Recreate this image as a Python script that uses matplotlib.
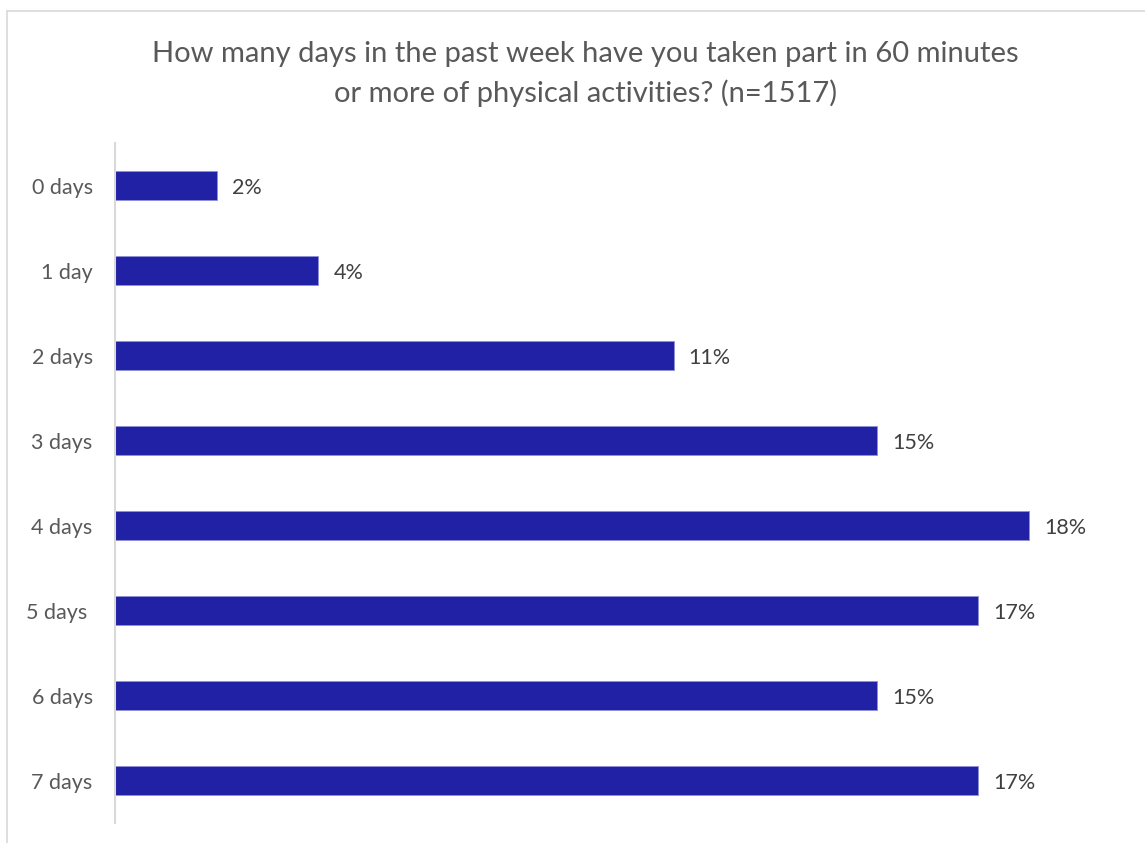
import matplotlib.pyplot as plt
from matplotlib.lines import Line2D

categories = ['0 days', '1 day', '2 days', '3 days', '4 days', '5 days ', '6 days', '7 days']
percent = [2, 4, 11, 15, 18, 17, 15, 17]
title = ('How many days in the past week have you taken part in 60 minutes\n'
         'or more of physical activities? (n=1517)')

plt.rcParams['font.family'] = ['Lato', 'DejaVu Sans']

fig = plt.figure(figsize=(11.45, 8.43), dpi=100)
ax = fig.add_axes([0.1004, 0.0237, 0.887, 0.8066])

ypos = range(len(categories))
ax.barh(ypos, percent, height=0.35, color='#2121A6', edgecolor='#8F8FD6', linewidth=0.6)

# percentage labels just past the bar ends
for y, v in zip(ypos, percent):
    ax.text(v + 0.3, y + 0.03, f'{v}%', va='center', ha='left', fontsize=15.5, color='#404040')

ax.set_yticks(list(ypos))
ax.set_yticklabels(categories, fontsize=15.5, color='#595959')
ax.tick_params(axis='y', length=0, pad=16)
ax.set_xticks([])
ax.set_xlim(0, 20)
ax.set_ylim(len(categories) - 0.5, -0.5)

for side in ['top', 'right', 'bottom']:
    ax.spines[side].set_visible(False)
ax.spines['left'].set_color('#D9D9D9')
ax.spines['left'].set_linewidth(1.5)

fig.text(0.511, 0.9125, title, ha='center', va='center', fontsize=21,
         color='#595959', linespacing=1.55)

# outer chart frame, cut off at the right and bottom edges
x0 = 7 / 1145
y0 = 1 - 11 / 843
fig.add_artist(Line2D([x0, x0], [0, y0], color='#D9D9D9', linewidth=1.2))
fig.add_artist(Line2D([x0, 1], [y0, y0], color='#D9D9D9', linewidth=1.2))

fig.savefig('out.png', dpi=100)
